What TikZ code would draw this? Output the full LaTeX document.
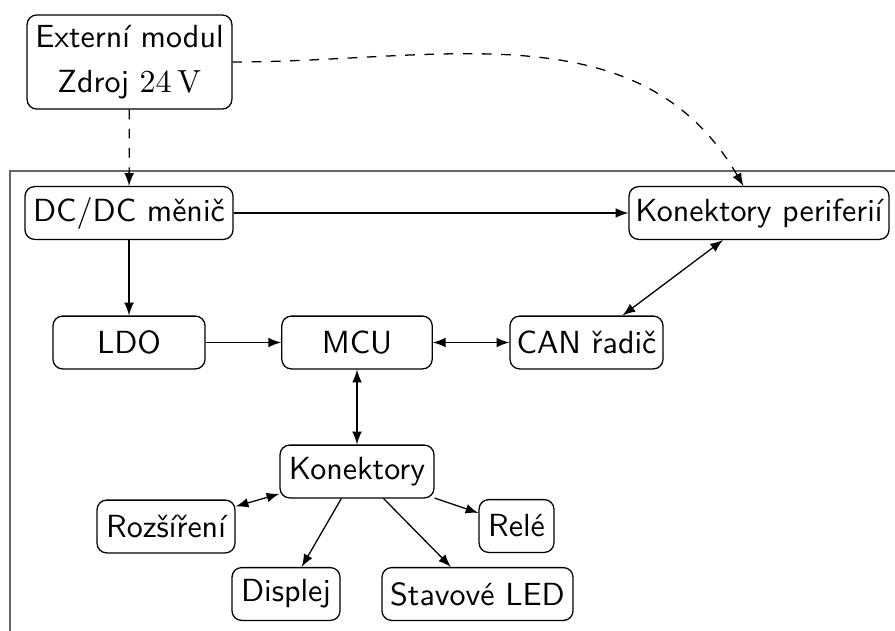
\documentclass[tikz,border=0pt]{standalone}
\usetikzlibrary{arrows}
\begin{document}
\begin{tikzpicture}[x=0.3125pt,y=-0.3125pt,>=latex,
  blk/.style={draw,rounded corners=3pt,font=\sffamily,inner xsep=2pt,inner ysep=2pt,minimum height=16.5pt},
  conn/.style={->},
  biconn/.style={<->},
  dconn/.style={->,dashed},
  framestyle/.style={draw=black!60,line width=0.5pt}]
\useasboundingbox (0,0) rectangle (895,630);
\draw[framestyle] (10,632) -- (10,171) -- (897,171);
\node[blk,minimum width=64pt,minimum height=29.4pt,align=center] (ext) at (129.5,62) {Externí modul\\[2pt]Zdroj $24\,\mathrm{V}$};
\node[blk,minimum width=65pt] (dcdc) at (129,213) {DC/DC měnič};
\node[blk,minimum width=81.25pt] (kp) at (759,213) {Konektory periferií};
\node[blk,minimum width=47.5pt] (ldo) at (129,342.5) {LDO};
\node[blk,minimum width=47pt] (mcu) at (357,342.5) {MCU};
\node[blk,minimum width=47.8pt] (can) at (586.5,342.5) {CAN řadič};
\node[blk,minimum width=48.1pt] (kon) at (357,471.5) {Konektory};
\node[blk,minimum width=43.1pt] (roz) at (166,526.5) {Rozšíření};
\node[blk,minimum width=23.4pt] (rele) at (516.5,526) {Relé};
\node[blk,minimum width=33.75pt] (disp) at (286,594) {Displej};
\node[blk,minimum width=59.7pt] (led) at (477.5,594) {Stavové LED};
\draw[dconn] (ext) -- (dcdc);
\draw[dconn] (ext.east) to[out=0,in=120] (kp.120);
\draw[conn] (dcdc) -- (kp);
\draw[conn] (dcdc) -- (ldo);
\draw[conn] (ldo) -- (mcu);
\draw[biconn] (mcu) -- (can);
\draw[biconn] (can) -- (kp);
\draw[biconn] (mcu) -- (kon);
\draw[biconn] (roz) -- (kon);
\draw[conn] (kon) -- (disp);
\draw[conn] (kon) -- (led);
\draw[conn] (kon) -- (rele);
\end{tikzpicture}
\end{document}
